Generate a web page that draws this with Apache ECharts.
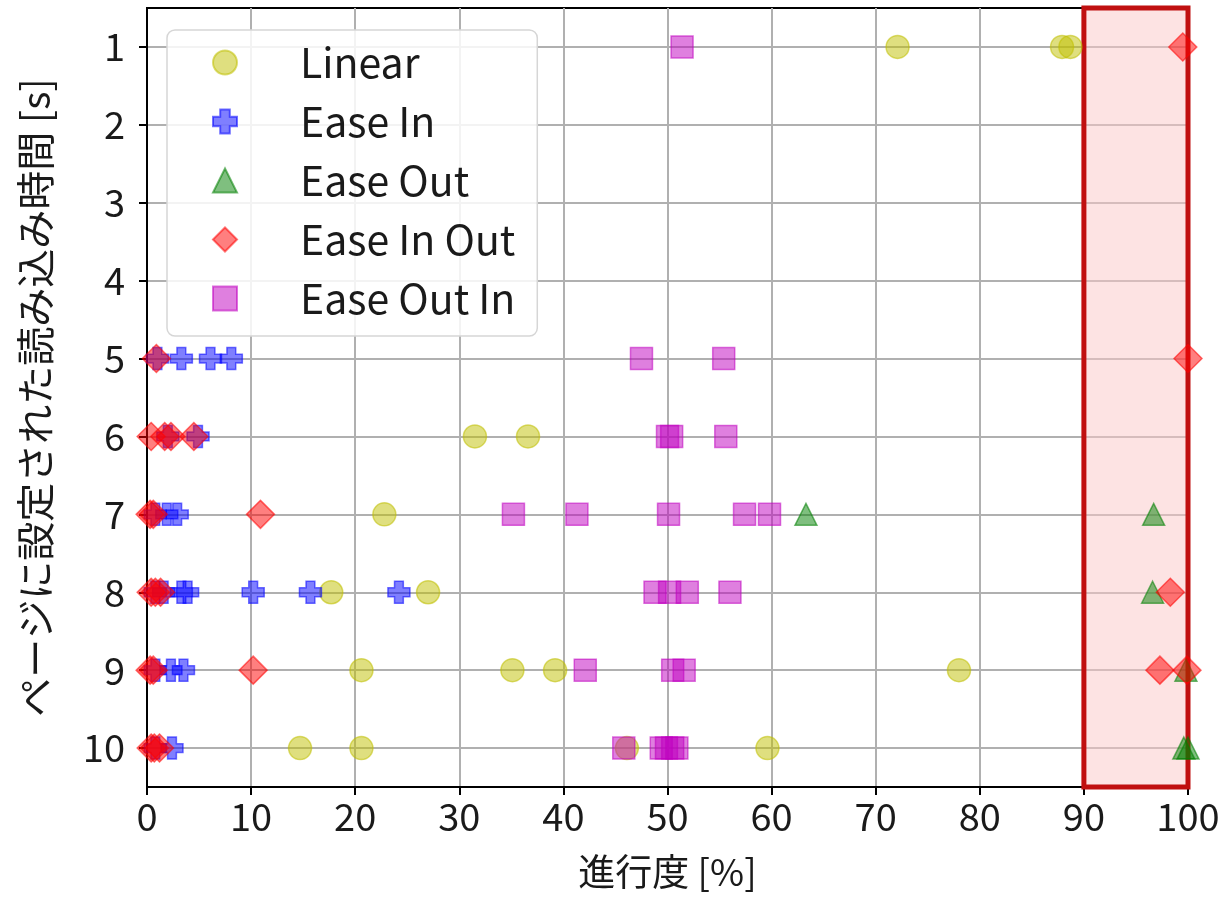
<!DOCTYPE html>
<html><head><meta charset="utf-8">
<script src="https://cdn.jsdelivr.net/npm/echarts@6/dist/echarts.min.js"></script>
<style>html,body{margin:0;padding:0;background:#fff}#c{width:1230px;height:897px}</style>
</head><body><div id="c"></div>
<script>
const seriesNames = ['Linear', 'Ease In', 'Ease Out', 'Ease In Out', 'Ease Out In'];
const yTicks = [1, 2, 3, 4, 5, 6, 7, 8, 9, 10];
const xTicks = [0, 10, 20, 30, 40, 50, 60, 70, 80, 90, 100];
const highlightRange = [90, 100];

// [progress %, page load time s]
const linearData = [
  [72.1, 1], [87.9, 1], [88.7, 1],
  [31.5, 6], [36.6, 6],
  [22.8, 7],
  [17.7, 8], [27.0, 8],
  [20.6, 9], [35.1, 9], [39.2, 9], [78.0, 9],
  [14.7, 10], [20.6, 10], [46.1, 10], [59.6, 10]
];
const easeInData = [
  [1.0, 5], [3.3, 5], [6.1, 5], [8.1, 5],
  [2.0, 6], [4.9, 6],
  [0.8, 7], [1.9, 7], [2.9, 7],
  [0.8, 8], [1.6, 8], [3.3, 8], [3.9, 8], [10.2, 8], [15.7, 8], [24.2, 8],
  [0.8, 9], [2.3, 9], [3.5, 9],
  [0.8, 10], [2.4, 10]
];
const easeOutData = [
  [63.3, 7], [96.7, 7],
  [96.6, 8],
  [99.8, 9],
  [99.6, 10], [100, 10]
];
const easeInOutData = [
  [99.5, 1],
  [0.9, 5], [100, 5],
  [0.4, 6], [1.7, 6], [2.3, 6], [4.5, 6],
  [0.3, 7], [0.6, 7], [10.9, 7],
  [0.4, 8], [0.8, 8], [1.3, 8], [98.3, 8],
  [0.3, 9], [0.6, 9], [10.2, 9], [97.3, 9], [99.9, 9],
  [0.4, 10], [0.7, 10], [1.2, 10]
];
const easeOutInData = [
  [51.4, 1],
  [47.5, 5], [55.4, 5],
  [50.0, 6], [50.4, 6], [55.6, 6],
  [35.2, 7], [41.3, 7], [50.1, 7], [57.4, 7], [59.8, 7],
  [48.8, 8], [50.2, 8], [51.9, 8], [56.0, 8],
  [42.1, 9], [50.5, 9], [51.6, 9],
  [45.8, 10], [49.4, 10], [49.9, 10], [50.5, 10], [50.9, 10]
];

const FONT = '"Noto Sans CJK JP", "Noto Sans", sans-serif';
const plusPath = 'path://M-1.2,-3L1.2,-3L1.2,-1.2L3,-1.2L3,1.2L1.2,1.2L1.2,3L-1.2,3L-1.2,1.2L-3,1.2L-3,-1.2L-1.2,-1.2Z';

function mk(name, data, symbol, size, rgb, extra) {
  const s = {
    name: name, type: 'scatter', data: data, symbol: symbol, symbolSize: size,
    clip: true,
    itemStyle: { color: 'rgba(' + rgb + ',0.5)', borderColor: 'rgba(' + rgb + ',0.55)', borderWidth: 1.5, opacity: 1 },
    emphasis: { disabled: true }
  };
  return Object.assign(s, extra || {});
}

const chart = echarts.init(document.getElementById('c'), null, { renderer: 'canvas' });
chart.setOption({
  animation: false,
  backgroundColor: '#ffffff',
  textStyle: { fontFamily: FONT },
  grid: { left: 147, right: 42, top: 8, bottom: 110, show: true, borderColor: '#000', borderWidth: 2, backgroundColor: 'transparent' },
  xAxis: {
    type: 'value', min: xTicks[0], max: xTicks[xTicks.length - 1], interval: 10,
    name: '進行度 [%]', nameLocation: 'middle', nameGap: 66,
    nameTextStyle: { fontSize: 37, color: '#1a1a1a', fontFamily: FONT },
    axisLine: { show: true, lineStyle: { color: '#000', width: 2 } },
    axisTick: { show: true, length: 8, lineStyle: { color: '#000', width: 2 } },
    axisLabel: { fontSize: 38, color: '#1a1a1a', margin: 11, fontFamily: FONT },
    splitLine: { show: true, lineStyle: { color: '#b0b0b0', width: 2 } }
  },
  yAxis: {
    type: 'value', min: 0.5, max: 10.5, splitNumber: 10, inverse: true,
    name: 'ページに設定された読み込み時間 [s]', nameLocation: 'middle', nameGap: 92, nameRotate: 90,
    nameTextStyle: { fontSize: 39, color: '#1a1a1a', fontFamily: FONT },
    axisLine: { show: true, lineStyle: { color: '#000', width: 2 } },
    axisTick: { show: true, length: 8, lineStyle: { color: '#000', width: 2 }, customValues: yTicks },
    axisLabel: { fontSize: 38, color: '#1a1a1a', margin: 22, fontFamily: FONT, customValues: yTicks,
      formatter: v => (Number.isInteger(v) ? String(v) : '') },
    splitLine: { show: true, lineStyle: { color: '#b0b0b0', width: 2 } }
  },
  legend: {
    orient: 'vertical', left: 167, top: 30,
    data: seriesNames,
    padding: [12, 22, 17, 45],
    itemGap: 18, itemWidth: 24, itemHeight: 24,
    backgroundColor: 'rgba(255,255,255,0.85)', borderColor: '#d6d6d6', borderWidth: 1.5, borderRadius: 8,
    textStyle: { fontSize: 41, color: '#1a1a1a', fontFamily: FONT, lineHeight: 40, padding: [0, 0, 0, 58] }
  },
  series: [
    mk(seriesNames[0], linearData, 'circle', 23, '191,191,0', {
      markArea: {
        silent: true,
        itemStyle: { color: 'rgba(252,200,200,0.5)', borderColor: '#c01010', borderWidth: 5 },
        data: [[{ xAxis: highlightRange[0] }, { xAxis: highlightRange[1] }]]
      }
    }),
    mk(seriesNames[1], easeInData, plusPath, 22, '0,0,255'),
    mk(seriesNames[2], easeOutData, 'triangle', 22, '0,128,0'),
    mk(seriesNames[3], easeInOutData, 'diamond', 28, '255,0,0'),
    mk(seriesNames[4], easeOutInData, 'rect', 22, '191,0,191')
  ]
});
</script>
</body></html>
